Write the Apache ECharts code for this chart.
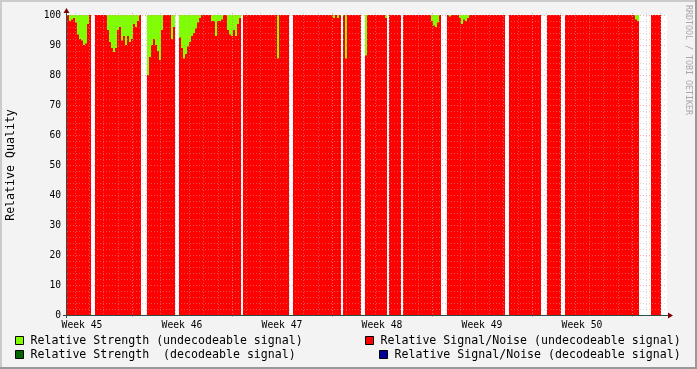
<!DOCTYPE html>
<html><head><meta charset="utf-8">
<script src="https://cdn.jsdelivr.net/npm/echarts@6/dist/echarts.min.js"></script>
<style>html,body{margin:0;padding:0;background:#F3F3F3}#c{width:697px;height:369px}</style>
</head><body><div id="c"></div>
<script>
// ---- data (one sample ~ 3.4 h, 300 samples over 6 weeks; null = no data) ----
const N = null;
const weekLabels = ['Week 45', 'Week 46', 'Week 47', 'Week 48', 'Week 49', 'Week 50'];
const sampleCount = 300;

// Relative Signal/Noise (undecodeable signal)
const snUndecodeable = [
  100,98,98.5,99,97.5,93.5,92,91.5,90,90.5,97,100,
  N,N,
  100,100,100,100,100,100,95,91,89,87.7,89,95,96,91.5,93,90,93,91,92,97,96,98,100,
  N,N,N,
  80,86,90,92,90,88,85,95,100,100,100,100,92,96,
  N,N,
  92.5,89,85.5,87,89.5,91,93,94,95.5,97.5,99,
  100,100,100,100,100,98,98,93,98,98,98.5,
  100,100,95,93.5,93,95,93,97,99,
  N,
  100,100,100,100,100,100,100,100,100,100,
  100,100,100,100,100,100,100,85.5,100,100,
  100,100,100,
  N,N,
  100,100,100,100,100,100,100,100,100,100,
  100,100,100,100,100,100,100,100,100,100,
  99,100,99,100,
  N,
  100,85.5,100,100,100,100,100,100,100,
  N,N,
  86.5,100,100,100,100,100,100,100,100,100,99,
  N,
  100,100,100,100,100,100,
  N,
  100,100,100,100,100,100,100,100,100,100,
  100,100,100,100,98,96.5,96,97.5,100,
  N,N,N,
  100,99.5,100,100,100,100,99,97,98.5,98,
  99,100,100,100,100,100,100,100,100,100,
  100,100,100,100,100,100,100,100,100,
  N,N,
  100,100,100,100,100,100,100,100,100,100,
  100,100,100,100,100,100,
  N,N,N,
  100,100,100,100,100,100,100,
  N,N,
  100,100,100,100,100,100,100,100,100,100,
  100,100,100,100,100,100,100,100,100,100,
  100,100,100,100,100,100,100,100,100,100,
  100,100,100,100,100,98.5,98,
  N,N,N,N,N,N,
  100,100,100,100,100,
  N,N,N
];

// Relative Strength (undecodeable signal)
const strengthUndecodeable = [
  100,100,100,100,100,100,100,100,100,100,100,100,
  N,N,
  100,100,100,100,100,100,100,100,100,100,100,100,100,100,100,100,100,100,100,100,100,100,100,
  N,N,N,
  100,100,100,100,100,100,100,100,100,100,100,100,100,100,
  N,N,
  100,100,100,100,100,100,100,100,100,100,100,
  100,100,100,100,100,100,100,100,100,100,100,
  100,100,100,100,100,100,100,100,100,
  N,
  100,100,100,100,100,100,100,100,100,100,
  100,100,100,100,100,100,100,100,100,100,
  100,100,100,
  N,N,
  100,100,100,100,100,100,100,100,100,100,
  100,100,100,100,100,100,100,100,100,100,
  100,100,100,100,
  N,
  100,100,100,100,100,100,100,100,100,
  N,N,
  100,100,100,100,100,100,100,100,100,100,100,
  N,
  100,100,100,100,100,100,
  N,
  100,100,100,100,100,100,100,100,100,100,
  100,100,100,100,100,100,100,100,100,
  N,N,N,
  100,100,100,100,100,100,100,100,100,100,
  100,100,100,100,100,100,100,100,100,100,
  100,100,100,100,100,100,100,100,100,
  N,N,
  100,100,100,100,100,100,100,100,100,100,
  100,100,100,100,100,100,
  N,N,N,
  100,100,100,100,100,100,100,
  N,N,
  100,100,100,100,100,100,100,100,100,100,
  100,100,100,100,100,100,100,100,100,100,
  100,100,100,100,100,100,100,100,100,100,
  100,100,100,100,100,100,100,
  N,N,N,N,N,N,
  100,100,100,100,100,
  N,N,N
];

// decodeable signal series: no values in this period
const strengthDecodeable = [];
const snDecodeable = [];

const seriesNames = [
  'Relative Strength (undecodeable signal)',
  'Relative Signal/Noise (undecodeable signal)',
  'Relative Strength  (decodeable signal)',
  'Relative Signal/Noise (decodeable signal)'
];
const seriesColors = ['#7FFF00', '#FF0000', '#006600', '#000099'];

// ---- chart ----
const FONT = '"DejaVu Sans Mono", monospace';
const categories = [];
for (let i = 0; i < sampleCount; i++) categories.push(String(i));

const chart = echarts.init(document.getElementById('c'), null, {renderer: 'canvas'});

const legendBase = {
  padding: 0, itemWidth: 8, itemHeight: 8, icon: 'rect', selectedMode: false,
  itemStyle: {borderColor: '#000', borderWidth: 1},
  textStyle: {fontFamily: FONT, fontSize: 11.6, color: '#000', padding: [0, 0, 0, 2]}
};
const minorGrid = 'rgba(175,175,175,0.5)';
const majorGrid = 'rgba(235,130,130,0.65)';

chart.setOption({
  animation: false,
  backgroundColor: '#F3F3F3',
  grid: [
    {left: 67, top: 15, width: 600, height: 300, show: true, backgroundColor: '#FFFFFF', borderWidth: 0},
    {left: 75, top: 13, width: 585.714, height: 302, show: false},
    {left: 132.143, top: 13, width: 500, height: 305, show: false},
    {left: 82, top: 15, width: 500, height: 300, show: false}
  ],
  xAxis: [
    {gridIndex: 0, type: 'category', data: categories, boundaryGap: true,
     axisLine: {show: false}, axisTick: {show: false}, axisLabel: {show: false}, splitLine: {show: false}},
    {gridIndex: 1, type: 'value', min: 0, max: 41, interval: 1, z: 5,
     axisLine: {show: false}, axisTick: {show: false}, axisLabel: {show: false},
     splitLine: {show: true, lineStyle: {color: minorGrid, width: 1, type: [1, 2]}}},
    {gridIndex: 2, type: 'value', min: 0, max: 5, interval: 1, z: 6,
     axisLine: {show: false}, axisTick: {show: false}, axisLabel: {show: false},
     splitLine: {show: true, lineStyle: {color: majorGrid, width: 1, type: [1, 2]}}},
    {gridIndex: 3, type: 'category', data: weekLabels, boundaryGap: false,
     axisLine: {show: false}, axisTick: {show: false}, splitLine: {show: false},
     axisLabel: {interval: 0, fontFamily: FONT, fontSize: 9.7, color: '#000', margin: 5, showMinLabel: true, showMaxLabel: true}}
  ],
  yAxis: [
    {gridIndex: 0, type: 'value', min: 0, max: 100, interval: 10, z: 5,
     axisLine: {show: false}, axisTick: {show: false},
     axisLabel: {fontFamily: FONT, fontSize: 9.6, color: '#000', margin: 6},
     splitLine: {show: true, lineStyle: {color: majorGrid, width: 1, type: [1, 2]}},
     minorTick: {show: false, splitNumber: 5},
     minorSplitLine: {show: true, lineStyle: {color: minorGrid, width: 1, type: [1, 2]}}},
    {gridIndex: 1, type: 'value', show: false, min: 0, max: 1},
    {gridIndex: 2, type: 'value', show: false, min: 0, max: 1},
    {gridIndex: 3, type: 'value', show: false, min: 0, max: 1}
  ],
  legend: [
    Object.assign({}, legendBase, {data: [seriesNames[0]], left: 15, top: 334.5}),
    Object.assign({}, legendBase, {data: [seriesNames[1]], left: 365, top: 334.5}),
    Object.assign({}, legendBase, {data: [seriesNames[2]], left: 15, top: 348.5}),
    Object.assign({}, legendBase, {data: [seriesNames[3]], left: 379, top: 348.5})
  ],
  series: [
    {name: seriesNames[0], type: 'bar', xAxisIndex: 0, yAxisIndex: 0, data: strengthUndecodeable,
     itemStyle: {color: seriesColors[0]}, barGap: '-100%', barCategoryGap: '0%', z: 2, silent: true},
    {name: seriesNames[1], type: 'bar', xAxisIndex: 0, yAxisIndex: 0, data: snUndecodeable,
     itemStyle: {color: seriesColors[1]}, barGap: '-100%', barCategoryGap: '0%', z: 3, silent: true},
    {name: seriesNames[2], type: 'bar', xAxisIndex: 0, yAxisIndex: 0, data: strengthDecodeable,
     itemStyle: {color: seriesColors[2]}, barGap: '-100%', barCategoryGap: '0%', z: 3, silent: true},
    {name: seriesNames[3], type: 'bar', xAxisIndex: 0, yAxisIndex: 0, data: snDecodeable,
     itemStyle: {color: seriesColors[3]}, barGap: '-100%', barCategoryGap: '0%', z: 3, silent: true}
  ],
  graphic: [
    {type: 'rect', silent: true, z: 50, shape: {x: 0, y: 0, width: 697, height: 2}, style: {fill: '#CBCBCB'}},
    {type: 'rect', silent: true, z: 50, shape: {x: 0, y: 0, width: 2, height: 369}, style: {fill: '#CBCBCB'}},
    {type: 'rect', silent: true, z: 50, shape: {x: 0, y: 367, width: 697, height: 2}, style: {fill: '#999999'}},
    {type: 'rect', silent: true, z: 50, shape: {x: 695, y: 0, width: 2, height: 369}, style: {fill: '#999999'}},
    {type: 'line', silent: true, z: 100, shape: {x1: 63, y1: 315.5, x2: 669, y2: 315.5}, style: {stroke: '#2C4D43', lineWidth: 1}},
    {type: 'line', silent: true, z: 100, shape: {x1: 66.5, y1: 318, x2: 66.5, y2: 12}, style: {stroke: '#2C4D43', lineWidth: 1}},
    {type: 'polygon', silent: true, z: 101, shape: {points: [[668, 312.5], [673, 315.5], [668, 318.5]]}, style: {fill: '#7F0000'}},
    {type: 'polygon', silent: true, z: 101, shape: {points: [[63.5, 13], [66.5, 8], [69.5, 13]]}, style: {fill: '#7F0000'}},
    {type: 'text', silent: true, z: 100, x: 11, y: 165, rotation: Math.PI / 2,
     style: {text: 'Relative Quality', font: '11.6px ' + FONT, fill: '#000', align: 'center', verticalAlign: 'middle'}},
    {type: 'text', silent: true, z: 100, x: 688, y: 60, rotation: -Math.PI / 2,
     style: {text: 'RRDTOOL / TOBI OETIKER', font: '8.3px ' + FONT, fill: '#A8A8A8', align: 'center', verticalAlign: 'middle'}}
  ]
});
</script>
</body></html>
